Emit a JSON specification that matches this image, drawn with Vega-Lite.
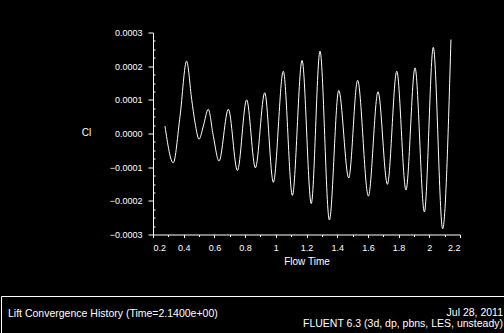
{
  "$schema": "https://vega.github.io/schema/vega-lite/v6.json",
  "background": "black",
  "padding": {"left": 1, "top": 28.5, "right": 0, "bottom": 0},
  "data": {"values": [
    {"t": 0.278, "cl": 0.000022},
    {"t": 0.332, "cl": -0.000087},
    {"t": 0.376, "cl": 0.000051},
    {"t": 0.419, "cl": 0.000215},
    {"t": 0.452, "cl": 0.000101},
    {"t": 0.474, "cl": 0.000032},
    {"t": 0.500, "cl": -0.000017},
    {"t": 0.528, "cl": 0.000022},
    {"t": 0.560, "cl": 0.000072},
    {"t": 0.593, "cl": -0.000008},
    {"t": 0.630, "cl": -0.000082},
    {"t": 0.691, "cl": 0.000072},
    {"t": 0.750, "cl": -0.000110},
    {"t": 0.810, "cl": 0.000100},
    {"t": 0.867, "cl": -0.000102},
    {"t": 0.928, "cl": 0.000121},
    {"t": 0.984, "cl": -0.000145},
    {"t": 1.049, "cl": 0.000185},
    {"t": 1.108, "cl": -0.000184},
    {"t": 1.171, "cl": 0.000217},
    {"t": 1.231, "cl": -0.000208},
    {"t": 1.288, "cl": 0.000245},
    {"t": 1.349, "cl": -0.000257},
    {"t": 1.410, "cl": 0.000128},
    {"t": 1.475, "cl": -0.000132},
    {"t": 1.533, "cl": 0.000158},
    {"t": 1.603, "cl": -0.000186},
    {"t": 1.666, "cl": 0.000124},
    {"t": 1.727, "cl": -0.000151},
    {"t": 1.788, "cl": 0.000185},
    {"t": 1.848, "cl": -0.000168},
    {"t": 1.907, "cl": 0.000195},
    {"t": 1.968, "cl": -0.000233},
    {"t": 2.026, "cl": 0.000256},
    {"t": 2.087, "cl": -0.000283},
    {"t": 2.141, "cl": 0.000279}
  ]},
  "bounds": "full",
  "spacing": 27.5,
  "vconcat": [
    {
      "bounds": "flush",
      "spacing": 0,
      "hconcat": [
        {
          "width": 151.5,
          "height": 202,
          "mark": {"type": "point", "opacity": 0}
        },
        {
          "width": 307,
          "height": 202,
          "mark": {"type": "line", "color": "white", "strokeWidth": 1, "interpolate": "monotone"},
          "encoding": {
            "x": {
              "field": "t", "type": "quantitative",
              "scale": {"domain": [0.2, 2.2], "nice": false, "zero": false},
              "axis": {
                "title": "Flow Time",
                "values": [0.2,0.3,0.4,0.5,0.6,0.7,0.8,0.9,1,1.1,1.2,1.3,1.4,1.5,1.6,1.7,1.8,1.9,2,2.1,2.2],
                "format": ".1~f",
                "labelExpr": "round(datum.value*10)%2==0 ? datum.label : ''",
                "tickSize": {"condition": {"test": "round(datum.value*10)%2==0", "value": 3}, "value": 2},
                "labelPadding": 6,
                "titlePadding": 4
              }
            },
            "y": {
              "field": "cl", "type": "quantitative",
              "scale": {"domain": [-0.0003, 0.0003], "nice": false, "zero": false},
              "axis": {
                "title": "Cl",
                "titleAngle": 0,
                "titleX": -67,
                "titleY": 100,
                "titleAlign": "center",
                "titleBaseline": "middle",
                "values": [-0.0003,-0.000275,-0.00025,-0.000225,-0.0002,-0.000175,-0.00015,-0.000125,-0.0001,-0.000075,-0.00005,-0.000025,0,0.000025,0.00005,0.000075,0.0001,0.000125,0.00015,0.000175,0.0002,0.000225,0.00025,0.000275,0.0003],
                "format": ".4f",
                "labelExpr": "round(datum.value*40000)%4==0 ? datum.label : ''",
                "tickSize": {"condition": {"test": "round(datum.value*40000)%4==0", "value": 5}, "value": -2},
                "labelPadding": 6
              }
            }
          }
        }
      ]
    },
    {
      "width": 502.5,
      "height": 38,
      "mark": {"type": "point", "opacity": 0},
      "encoding": {
        "x": {
          "field": "t", "type": "quantitative",
          "axis": {
            "orient": "top",
            "ticks": false, "labels": false, "grid": false,
            "title": "Lift Convergence History  (Time=2.1400e+00)",
            "titleFontSize": 10.5,
            "titleX": 6.5,
            "titleY": 20,
            "titleAlign": "left",
            "titleAnchor": "start",
            "titleBaseline": "alphabetic"
          }
        },
        "y": {
          "field": "cl", "type": "quantitative",
          "axis": {
            "orient": "left",
            "ticks": false, "labels": false, "grid": false,
            "title": ["Jul 28, 2011", "FLUENT 6.3 (3d, dp, pbns, LES, unsteady)"],
            "titleFontSize": 10.5,
            "titleAngle": 0,
            "titleX": 501.5,
            "titleY": 19,
            "titleAlign": "right",
            "titleBaseline": "alphabetic",
            "titleLineHeight": 11
          }
        }
      }
    }
  ],
  "config": {
    "view": {"stroke": null},
    "axis": {
      "domainColor": "white",
      "domainWidth": 1,
      "tickColor": "white",
      "tickWidth": 1,
      "labelColor": "white",
      "labelFont": "Liberation Sans",
      "labelFontSize": 9,
      "titleColor": "white",
      "titleFont": "Liberation Sans",
      "titleFontSize": 10,
      "titleFontWeight": "normal",
      "grid": false
    }
  }
}
